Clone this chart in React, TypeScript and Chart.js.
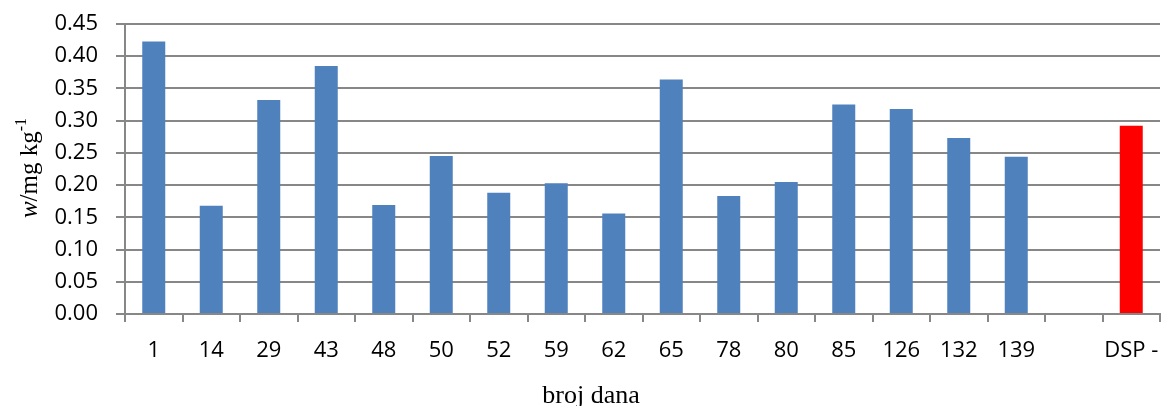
import React, { useEffect, useRef } from "react";
import { Chart, registerables } from "chart.js";

Chart.register(...registerables);

const categories = ["1", "14", "29", "43", "48", "50", "52", "59", "62", "65", "78", "80", "85", "126", "132", "139", "", "DSP -"];
const values = [0.423, 0.168, 0.332, 0.385, 0.169, 0.245, 0.188, 0.203, 0.156, 0.364, 0.183, 0.205, 0.325, 0.318, 0.273, 0.244, null, 0.292];
const barColors = ["#4F81BD", "#4F81BD", "#4F81BD", "#4F81BD", "#4F81BD", "#4F81BD", "#4F81BD", "#4F81BD", "#4F81BD", "#4F81BD", "#4F81BD", "#4F81BD", "#4F81BD", "#4F81BD", "#4F81BD", "#4F81BD", "#4F81BD", "#FF0000"];
const yTicks = [0, 0.05, 0.1, 0.15, 0.2, 0.25, 0.3, 0.35, 0.4, 0.45];
const xTitle = "broj dana";

const GRID = "#878787";

const titlesPlugin = {
  id: "titles",
  afterDraw(chart: any) {
    const ctx = chart.ctx;
    ctx.save();
    ctx.fillStyle = "#000";
    // x title
    ctx.font = "26px 'Liberation Serif', serif";
    ctx.textAlign = "center";
    ctx.textBaseline = "alphabetic";
    ctx.fillText(xTitle, 591, 403);
    // y title (rotated)
    ctx.translate(37, 168);
    ctx.rotate(-Math.PI / 2);
    const parts = [
      { t: "w", f: "italic 25px 'Liberation Serif', serif", dy: 0 },
      { t: "/mg kg", f: "25px 'Liberation Serif', serif", dy: 0 },
      { t: "-1", f: "16px 'Liberation Serif', serif", dy: -11 },
    ];
    let total = 0;
    for (const p of parts) {
      ctx.font = p.f;
      total += ctx.measureText(p.t).width;
    }
    let x = -total / 2;
    ctx.textAlign = "left";
    for (const p of parts) {
      ctx.font = p.f;
      ctx.fillText(p.t, x, p.dy);
      x += ctx.measureText(p.t).width;
    }
    ctx.restore();
  },
};

export default function App() {
  const ref = useRef<HTMLCanvasElement | null>(null);
  useEffect(() => {
    document.body.style.margin = "0";
    const chart = new Chart(ref.current as HTMLCanvasElement, {
      type: "bar",
      data: {
        labels: categories,
        datasets: [
          {
            data: values as any,
            backgroundColor: barColors,
            borderWidth: 0,
            barPercentage: 0.4,
            categoryPercentage: 1,
          },
        ],
      },
      options: {
        responsive: false,
        animation: false,
        layout: { padding: { top: 24, right: 1, left: 0, bottom: 0 } },
        plugins: { legend: { display: false }, tooltip: { enabled: false } },
        scales: {
          x: {
            offset: true,
            grid: { offset: true, drawOnChartArea: false, drawTicks: true, tickLength: 8, color: GRID, lineWidth: 2 },
            border: { color: GRID, width: 2 },
            ticks: { color: "#000", font: { family: "'Open Sans'", size: 22 }, padding: 16, maxRotation: 0, autoSkip: false },
            afterFit: (s: any) => { s.height = 92; s.paddingLeft = 0; s.paddingRight = 0; },
          },
          y: {
            min: 0,
            max: 0.45,
            afterBuildTicks: (s: any) => { s.ticks = yTicks.map((v) => ({ value: v })); },
            grid: { color: GRID, lineWidth: 2, tickLength: 9 },
            border: { color: GRID, width: 2 },
            ticks: { color: "#000", font: { family: "'Open Sans'", size: 22 }, padding: 18, callback: (v: any) => Number(v).toFixed(2) },
            afterFit: (s: any) => { s.width = 125; s.paddingTop = 0; s.paddingBottom = 0; },
          },
        },
      },
      plugins: [titlesPlugin],
    });
    return () => chart.destroy();
  }, []);
  return (
    <div style={{ width: 1161, height: 406 }}>
      <canvas ref={ref} width={1161} height={406} />
    </div>
  );
}
